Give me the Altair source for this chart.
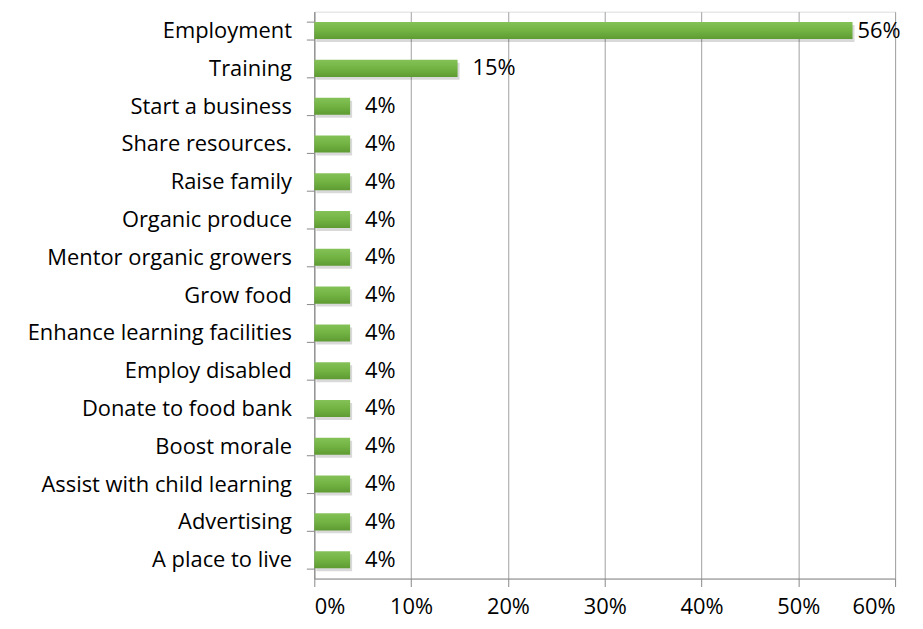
import altair as alt
import pandas as pd

categories = ["Employment", "Training", "Start a business", "Share resources.", "Raise family",
              "Organic produce", "Mentor organic growers", "Grow food", "Enhance learning facilities",
              "Employ disabled", "Donate to food bank", "Boost morale", "Assist with child learning",
              "Advertising", "A place to live"]
values = [0.556, 0.148, 0.037, 0.037, 0.037, 0.037, 0.037, 0.037, 0.037,
          0.037, 0.037, 0.037, 0.037, 0.037, 0.037]
labels = ["56%", "15%", "4%", "4%", "4%", "4%", "4%", "4%", "4%", "4%", "4%", "4%", "4%", "4%", "4%"]

df = pd.DataFrame({"cat": categories, "value": values, "label": labels})

FONT = "Open Sans"
FS = 22

y_enc = alt.Y("cat:N", sort=categories, title=None,
              scale=alt.Scale(paddingInner=0.55, paddingOuter=0.275),
              axis=alt.Axis(labelFontSize=FS, labelFont=FONT, labelColor="#000000",
                            labelLimit=400,
                            tickBand="extent", tickSize=8, tickColor="#888888",
                            domainColor="#888888", labelPadding=15, grid=False))
x_enc = alt.X("value:Q", title=None,
              scale=alt.Scale(domain=[0, 0.6], nice=False),
              axis=alt.Axis(format=".0%", values=[0, 0.1, 0.2, 0.3, 0.4, 0.5, 0.6],
                            labelFontSize=FS, labelFont=FONT, labelColor="#000000",
                            tickSize=8, tickColor="#888888", domainColor="#888888",
                            grid=True, gridColor="#a0a0a0", labelPadding=10))

base = alt.Chart(df)

shadow = base.mark_bar(color="#000000", opacity=0.15, xOffset=2, yOffset=3).encode(
    x=x_enc, y=y_enc)

bars = base.mark_bar(
    color=alt.Gradient(gradient="linear", x1=0, y1=0, x2=0, y2=1,
                       stops=[alt.GradientStop(color="#84c157", offset=0),
                              alt.GradientStop(color="#72b343", offset=0.5),
                              alt.GradientStop(color="#5e9b32", offset=1)])
).encode(x=x_enc, y=y_enc)

text_big = base.transform_filter("datum.value > 0.5").mark_text(
    align="left", dx=5, fontSize=FS, font=FONT, color="#000000").encode(
    x="value:Q", y=alt.Y("cat:N", sort=categories), text="label:N")
text_small = base.transform_filter("datum.value <= 0.5").mark_text(
    align="left", dx=15, fontSize=FS, font=FONT, color="#000000").encode(
    x="value:Q", y=alt.Y("cat:N", sort=categories), text="label:N")

chart = alt.layer(shadow, bars, text_big, text_small).properties(
    width=584, height=570,
    autosize=alt.AutoSizeParams(type="none"),
    padding={"left": 308, "top": 2, "right": 20, "bottom": 48}
).configure_view(stroke=None).configure(background="#ffffff")

chart.save("out.html", embed_options={"renderer": "svg", "actions": False})
